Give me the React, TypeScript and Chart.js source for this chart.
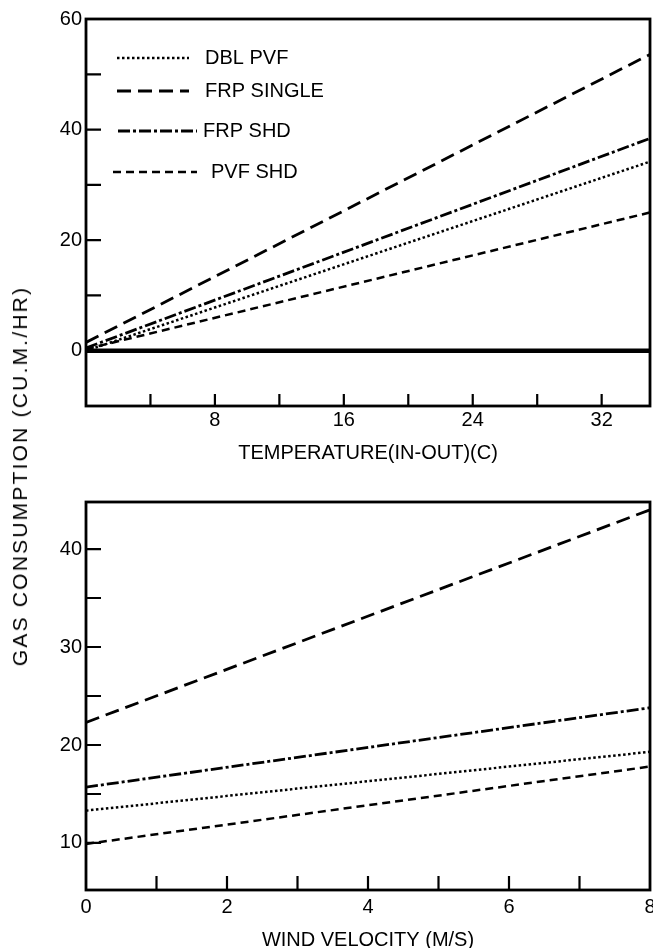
import React, { useEffect, useRef } from "react";
import { Chart, registerables } from "chart.js";
Chart.register(...registerables);

// ---------- data ----------
const seriesNames = ["DBL PVF", "FRP SINGLE", "FRP SHD", "PVF SHD"];

// top panel: gas consumption vs temperature difference
const tempX = [0, 35];
const tempDblPvf = [0, 34.2];
const tempFrpSingle = [1.5, 53.6];
const tempFrpShd = [0.5, 38.4];
const tempPvfShd = [0.3, 25];
const tempZeroLine = [0, 0];
const tempTicks = [0, 4, 8, 12, 16, 20, 24, 28, 32];
const tempTickLabels = [8, 16, 24, 32];
const gasTopTicks = [-10, 0, 10, 20, 30, 40, 50, 60];
const gasTopTickLabels = [0, 20, 40, 60];

// bottom panel: gas consumption vs wind velocity
const windX = [0, 8];
const windDblPvf = [13.3, 19.3];
const windFrpSingle = [22.3, 44];
const windFrpShd = [15.7, 23.8];
const windPvfShd = [9.9, 17.8];
const windTicks = [0, 1, 2, 3, 4, 5, 6, 7, 8];
const windTickLabels = [0, 2, 4, 6, 8];
const gasBottomTicks = [5, 10, 15, 20, 25, 30, 35, 40];
const gasBottomTickLabels = [10, 20, 30, 40];

// ---------- styles ----------
const FONT = "'Liberation Sans', Arial, sans-serif";
const lineStyles: Record<string, { dash: number[]; width: number }> = {
  "DBL PVF": { dash: [2.5, 2.5], width: 2.5 },
  "FRP SINGLE": { dash: [14, 7], width: 2.8 },
  "FRP SHD": { dash: [12, 3, 3, 3], width: 2.8 },
  "PVF SHD": { dash: [8, 5], width: 2.5 },
};

function seriesDataset(name: string, xs: number[], ys: number[]) {
  const st = lineStyles[name];
  return {
    label: name,
    data: xs.map((x, i) => ({ x, y: ys[i] })),
    borderColor: "#000",
    borderWidth: st.width,
    borderDash: st.dash,
    pointRadius: 0,
    fill: false,
    tension: 0,
  };
}

const frameAndTicks = {
  id: "frameAndTicks",
  afterDatasetsDraw(chart: any, _args: any, opts: any) {
    const { ctx, chartArea: a, scales } = chart;
    ctx.save();
    ctx.strokeStyle = "#000";
    ctx.lineWidth = 2.2;
    const xs = scales.x;
    const ys = scales.y;
    ctx.beginPath();
    xs.ticks.forEach((t: any) => {
      if (t.value <= xs.min || t.value >= xs.max) return;
      const px = xs.getPixelForValue(t.value);
      ctx.moveTo(px, a.bottom);
      ctx.lineTo(px, a.bottom - opts.xLen);
    });
    ys.ticks.forEach((t: any) => {
      if (t.value <= ys.min || t.value >= ys.max) return;
      const py = ys.getPixelForValue(t.value);
      ctx.moveTo(a.left, py);
      ctx.lineTo(a.left + opts.yLen, py);
    });
    ctx.stroke();
    ctx.lineWidth = 2.8;
    ctx.strokeRect(a.left, a.top, a.right - a.left, a.bottom - a.top);
    ctx.restore();
  },
};

const innerLegend = {
  id: "innerLegend",
  afterDatasetsDraw(chart: any, _args: any, opts: any) {
    if (!opts || !opts.rows) return;
    const { ctx } = chart;
    ctx.save();
    ctx.fillStyle = "#000";
    ctx.strokeStyle = "#000";
    ctx.font = `20px ${FONT}`;
    ctx.textBaseline = "middle";
    opts.rows.forEach((r: any) => {
      const st = lineStyles[r.name];
      ctx.lineWidth = st.width;
      ctx.setLineDash(st.dash);
      ctx.beginPath();
      ctx.moveTo(r.x0, r.y);
      ctx.lineTo(r.x1, r.y);
      ctx.stroke();
      ctx.setLineDash([]);
      ctx.fillText(r.name, r.tx, r.y);
    });
    ctx.restore();
  },
};

function makeScale(
  ticks: number[],
  labels: number[],
  min: number,
  max: number,
  fit: (s: any) => void,
  title?: any,
  pad = 4
) {
  return {
    type: "linear",
    min,
    max,
    grid: { display: false, drawTicks: false },
    border: { display: false },
    afterBuildTicks: (s: any) => {
      s.ticks = ticks.map((v) => ({ value: v }));
    },
    afterFit: (s: any) => {
      fit(s);
      s.paddingLeft = 0;
      s.paddingRight = 0;
      s.paddingTop = 0;
      s.paddingBottom = 0;
    },
    ticks: {
      autoSkip: false,
      maxRotation: 0,
      padding: pad,
      color: "#000",
      font: { family: FONT, size: 20 },
      callback: (v: any) => (labels.includes(Number(v)) ? String(v) : ""),
    },
    title: title || { display: false },
  };
}

function ChartPanel(props: { top: number; height: number; build: () => any }) {
  const ref = useRef<HTMLCanvasElement>(null);
  useEffect(() => {
    const c = new Chart(ref.current!, props.build());
    return () => c.destroy();
  }, []);
  return (
    <div style={{ position: "absolute", left: 0, top: props.top, width: 653, height: props.height }}>
      <canvas ref={ref} />
    </div>
  );
}

function buildTop() {
  const ys = [tempDblPvf, tempFrpSingle, tempFrpShd, tempPvfShd];
  return {
    type: "line",
    data: {
      datasets: [
        ...seriesNames.map((n, i) => seriesDataset(n, tempX, ys[i])),
        {
          label: "zero",
          data: tempX.map((x, i) => ({ x, y: tempZeroLine[i] })),
          borderColor: "#000",
          borderWidth: 4.5,
          pointRadius: 0,
        },
      ],
    },
    options: {
      responsive: true,
      maintainAspectRatio: false,
      animation: false,
      layout: { padding: { left: 0, right: 3, top: 19, bottom: 0 } },
      plugins: {
        legend: { display: false },
        tooltip: { enabled: false },
        frameAndTicks: { xLen: 12, yLen: 15 },
        innerLegend: {
          rows: [
            { name: "DBL PVF", x0: 117, x1: 189, tx: 205, y: 58 },
            { name: "FRP SINGLE", x0: 117, x1: 189, tx: 205, y: 91 },
            { name: "FRP SHD", x0: 118, x1: 197, tx: 203, y: 131 },
            { name: "PVF SHD", x0: 113, x1: 197, tx: 211, y: 172 },
          ],
        },
      },
      scales: {
        x: makeScale(
          tempTicks,
          tempTickLabels,
          0,
          35,
          (s) => {
            s.height = 74;
          },
          {
            display: true,
            text: "TEMPERATURE(IN-OUT)(C)",
            color: "#000",
            font: { family: FONT, size: 20 },
            padding: { top: 0, bottom: 15 },
          },
          2
        ),
        y: makeScale(gasTopTicks, gasTopTickLabels, -10, 60, (s) => {
          s.width = 86;
        }),
      },
    },
    plugins: [frameAndTicks, innerLegend],
  };
}

function buildBottom() {
  const ys = [windDblPvf, windFrpSingle, windFrpShd, windPvfShd];
  return {
    type: "line",
    data: {
      datasets: seriesNames.map((n, i) => seriesDataset(n, windX, ys[i])),
    },
    options: {
      responsive: true,
      maintainAspectRatio: false,
      animation: false,
      layout: { padding: { left: 0, right: 3, top: 22, bottom: 0 } },
      plugins: {
        legend: { display: false },
        tooltip: { enabled: false },
        frameAndTicks: { xLen: 14, yLen: 15 },
      },
      scales: {
        x: makeScale(
          windTicks,
          windTickLabels,
          0,
          8,
          (s) => {
            s.height = 58;
          },
          {
            display: true,
            text: "WIND VELOCITY (M/S)",
            color: "#000",
            font: { family: FONT, size: 20, lineHeight: 0.8 },
            padding: { top: 0, bottom: 0 },
          },
          5
        ),
        y: makeScale(gasBottomTicks, gasBottomTickLabels, 5.2, 44.8, (s) => {
          s.width = 86;
        }),
      },
    },
    plugins: [frameAndTicks],
  };
}

export default function App() {
  return (
    <div
      style={{
        position: "fixed",
        left: 0,
        top: 0,
        width: 653,
        height: 948,
        background: "#fff",
        overflow: "hidden",
      }}
    >
      <ChartPanel top={0} height={480} build={buildTop} />
      <ChartPanel top={480} height={468} build={buildBottom} />
      <div
        style={{
          position: "absolute",
          left: 20,
          top: 476,
          transform: "translate(-50%, -50%) rotate(-90deg)",
          whiteSpace: "nowrap",
          fontFamily: FONT,
          fontSize: 21,
          letterSpacing: 2.2,
          color: "#000",
        }}
      >
        GAS CONSUMPTION (CU.M./HR)
      </div>
    </div>
  );
}
